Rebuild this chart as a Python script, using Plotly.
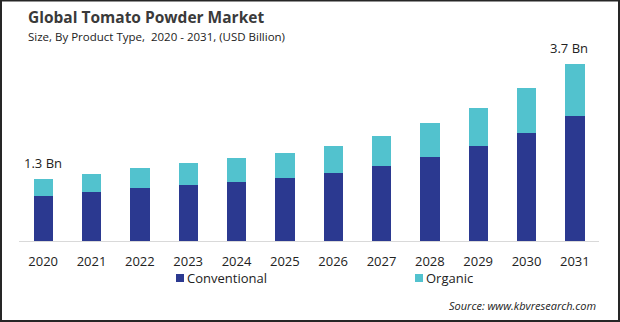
import plotly.graph_objects as go

# Global tomato powder market size by product type (USD billion)
years = ["2020", "2021", "2022", "2023", "2024", "2025",
         "2026", "2027", "2028", "2029", "2030", "2031"]
conventional = [0.94, 1.03, 1.11, 1.17, 1.24, 1.32, 1.42, 1.57, 1.76, 1.99, 2.26, 2.62]
organic = [0.36, 0.37, 0.42, 0.46, 0.50, 0.52, 0.57, 0.63, 0.71, 0.80, 0.94, 1.08]
totals = [round(c + o, 2) for c, o in zip(conventional, organic)]
callout_years = ["2020", "2031"]
series_names = ["Conventional", "Organic"]
series_colors = ["#2B3990", "#52C2CE"]

W, H = 620, 322
ML, MR, MT, MB = 19, 21, 50, 81
plot_w = W - ML - MR
plot_h = H - MT - MB
FONT = "Open Sans, Noto Sans, sans-serif"


def px_x(p):
    return (p - ML) / plot_w


def px_y(p):
    return (H - MB - p) / plot_h


fig = go.Figure()
for name, vals, col in zip(series_names, [conventional, organic], series_colors):
    fig.add_trace(go.Bar(x=years, y=vals, name=name, showlegend=False,
                         marker=dict(color=col, line=dict(width=0)), width=0.4))

# Value callouts on the first and last year
for yr, xs in zip(callout_years, [0, -6]):
    i = years.index(yr)
    fig.add_annotation(xref="x", yref="y", x=i, y=totals[i], text=f"{totals[i]:.1f} Bn",
                       showarrow=False, yanchor="bottom", yshift=5, xshift=xs,
                       font=dict(family=FONT, size=13, color="#222"))

# Titles
fig.add_annotation(xref="paper", yref="paper", x=px_x(26), y=px_y(17),
                   text="<b>Global Tomato Powder Market</b>", showarrow=False,
                   xanchor="left", yanchor="middle",
                   font=dict(family=FONT, size=15.5, color="#3a3a3a"))
fig.add_annotation(xref="paper", yref="paper", x=px_x(26), y=px_y(36),
                   text="Size, By Product Type,  2020 - 2031, (USD Billion)", showarrow=False,
                   xanchor="left", yanchor="middle",
                   font=dict(family=FONT, size=11.5, color="#222"))
fig.add_annotation(xref="paper", yref="paper", x=px_x(598), y=px_y(305),
                   text="<i>Source: www.kbvresearch.com</i>", showarrow=False,
                   xanchor="right", yanchor="middle",
                   font=dict(family=FONT, size=11, color="#222"))

# Legend: colour swatch followed by series name
legend_x = [176, 415]
for name, col, lx in zip(series_names, series_colors, legend_x):
    fig.add_shape(type="rect", xref="paper", yref="paper",
                  x0=px_x(lx), x1=px_x(lx + 8), y0=px_y(282), y1=px_y(274),
                  line=dict(width=0), fillcolor=col)
    fig.add_annotation(xref="paper", yref="paper", x=px_x(lx + 9), y=px_y(278),
                       text=name, showarrow=False, xanchor="left", yanchor="middle",
                       font=dict(family=FONT, size=13, color="#222"))

# Outer frame
fig.add_shape(type="rect", xref="paper", yref="paper",
              x0=px_x(1), x1=px_x(619), y0=px_y(321), y1=px_y(0.5),
              line=dict(color="#262626", width=2), fillcolor="rgba(0,0,0,0)", layer="above")

fig.update_layout(
    width=W, height=H,
    margin=dict(l=ML, r=MR, t=MT, b=MB, autoexpand=False),
    barmode="stack",
    paper_bgcolor="white", plot_bgcolor="white",
    showlegend=False,
    xaxis=dict(type="category", range=[-0.5, 11.5], showgrid=False,
               showline=True, linecolor="#d9d9d9", linewidth=1,
               ticks="", ticklabelstandoff=8,
               tickfont=dict(family=FONT, size=13, color="#222")),
    yaxis=dict(range=[0, 4.0], visible=False, showgrid=False, zeroline=False),
)

fig.write_html("out.html")
